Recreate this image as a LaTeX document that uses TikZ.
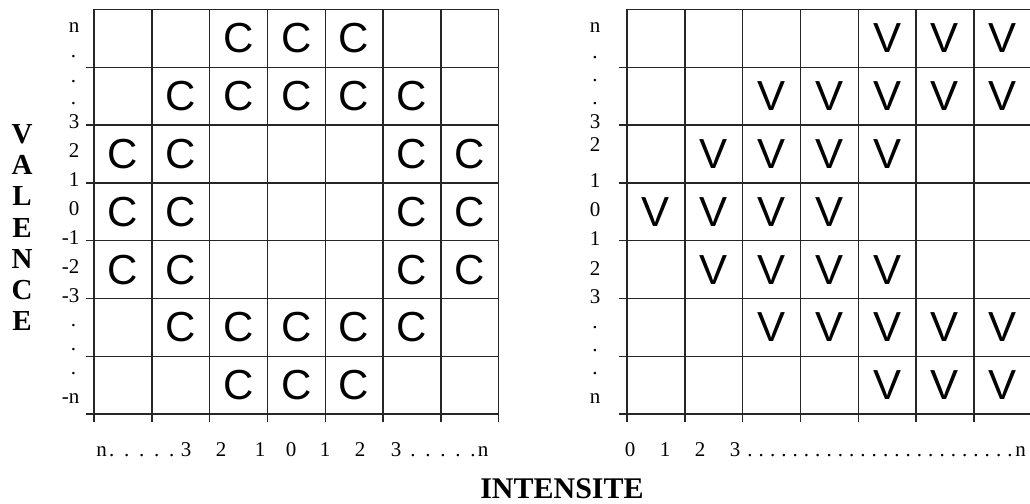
\documentclass[tikz,border=0pt]{standalone}
\usepackage{fontspec}
\setmainfont{Liberation Serif}
\newfontfamily\cvfont{Liberation Sans}
\newcommand\dotrow[2]{\hbox to #1{\cleaders\hbox to #2{\hss.\hss}\hfill}}
\begin{document}
\begin{tikzpicture}[x=1pt,y=-1pt,
  grid/.style={line width=1.4pt, draw=black!85},
  lab/.style={font=\fontsize{21}{21}\selectfont, inner sep=0pt, anchor=base},
  labe/.style={lab, anchor=base east},
  cell/.style={font=\cvfont\fontsize{42}{42}\selectfont, inner sep=0pt},
  axtitle/.style={font=\bfseries\fontsize{30}{30}\selectfont, inner sep=0pt, anchor=base},
  vtitle/.style={font=\bfseries\fontsize{29}{29}\selectfont, inner sep=0pt, anchor=base}]
\useasboundingbox (0,0) rectangle (1030,503);
\def\cs{57.8}
% ---------- left grid ----------
\draw[grid] (94,9.5) -- (498.6,9.5);
\foreach \j in {1,...,7} \draw[grid] (86,9.5+\cs*\j) -- (498.6,9.5+\cs*\j);
\foreach \i in {0,...,7} \draw[grid] (94+\cs*\i,9.5) -- (94+\cs*\i,422);
% ---------- right grid ----------
\draw[grid] (627,9.5) -- (1032,9.5);
\foreach \j in {1,...,7} \draw[grid] (619,9.5+\cs*\j) -- (1032,9.5+\cs*\j);
\foreach \i in {0,...,6} \draw[grid] (627+\cs*\i,9.5) -- (627+\cs*\i,422);
% ---------- C cells ----------
\foreach \r/\cols in {0/{2,3,4},1/{1,2,3,4,5},2/{0,1,5,6},3/{0,1,5,6},4/{0,1,5,6},5/{1,2,3,4,5},6/{2,3,4}}
  \foreach \c in \cols
    \node[cell] (C\r\c) at (94+\cs*\c+28.9,9.5+\cs*\r+28.9) {C};
% ---------- V cells ----------
\foreach \r/\cols in {0/{4,5,6},1/{2,3,4,5,6},2/{1,2,3,4},3/{0,1,2,3},4/{1,2,3,4},5/{2,3,4,5,6},6/{4,5,6}}
  \foreach \c in \cols
    \node[cell] (V\r\c) at (627+\cs*\c+28.9,9.5+\cs*\r+28.9) {V};
% ---------- left side labels ----------
\foreach \t/\y [count=\k] in {n/33,3/128.5,2/157.5,1/186.5,0/215.5,-1/244.5,-2/273.5,-3/302.5,-n/403}
  \node[labe] (ll\k) at (79.5,\y) {\t};
\foreach \y [count=\k] in {58,82,104,326.5,350,374}
  \node[lab] (ld\k) at (73.5,\y) {.};
% ---------- right side labels ----------
\foreach \t/\y [count=\k] in {n/33,3/128,2/151.5,1/187,0/216,1/245,2/275,3/303,n/403}
  \node[lab] (rl\k) at (595,\y) {\t};
\foreach \y [count=\k] in {58.5,81.5,104.5,328,351,374}
  \node[lab] (rd\k) at (595,\y) {.};
% ---------- bottom labels left ----------
\foreach \t/\x [count=\k] in {n/101.7,3/186,2/221,1/260,0/291,1/325,2/360,3/396,n/483}
  \node[lab] (bl\k) at (\x,456.5) {\t};
\node[lab] (bld1) at (141.7,456.5) {\dotrow{75pt}{15pt}};
\node[lab] (bld2) at (443,456.5) {\dotrow{75pt}{15pt}};
% ---------- bottom labels right ----------
\foreach \t/\x [count=\k] in {0/630,1/665,2/700,3/735,n/1020.5}
  \node[lab] (br\k) at (\x,456.5) {\t};
\node[lab] (brd) at (880,456.5) {\dotrow{271.2pt}{11.3pt}};
% ---------- titles ----------
\foreach \t [count=\k from 0] in {V,A,L,E,N,C,E}
  \node[vtitle] (val\k) at (22,143.5+31.2*\k) {\t};
\node[axtitle] (intensite) at (562,498.5) {INTENSITE};
\end{tikzpicture}
\end{document}
